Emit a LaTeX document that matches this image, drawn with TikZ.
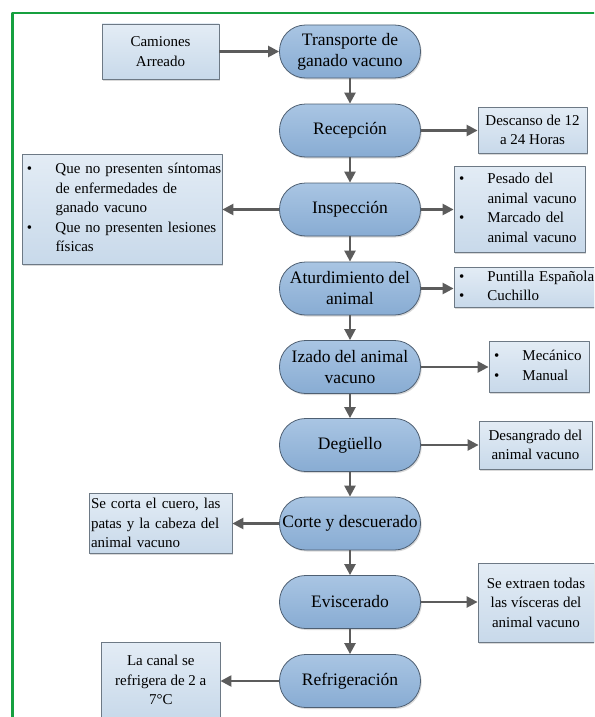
\documentclass[tikz,border=0pt]{standalone}
\usepackage{fontspec}
\setmainfont{Liberation Serif}
\usetikzlibrary{arrows.meta,shadows}
\definecolor{framegreen}{HTML}{16A03F}
\definecolor{arrowgray}{HTML}{5C5C5C}
\definecolor{pilltop}{HTML}{A9C5E3}
\definecolor{pillbot}{HTML}{88ACD3}
\definecolor{pillline}{HTML}{4E5F72}
\definecolor{boxtop}{HTML}{E3ECF5}
\definecolor{boxbot}{HTML}{C8D9EA}
\definecolor{boxline}{HTML}{6D7985}
\tikzset{
  every picture/.style={line join=round, >=Triangle},
  stage/.style={draw=pillline, line width=0.8pt, rounded corners=26pt,
    top color=pilltop, bottom color=pillbot, minimum width=141pt, minimum height=53pt,
    align=center, inner sep=1pt, font=\fontsize{17.5}{21}\selectfont,
    drop shadow={shadow xshift=1.2pt, shadow yshift=-1.5pt, opacity=0.3}},
  note/.style={draw=boxline, line width=0.8pt, top color=boxtop, bottom color=boxbot,
    inner sep=0pt, align=center, font=\fontsize{15}{19.5}\selectfont,
    drop shadow={shadow xshift=1.2pt, shadow yshift=-1.5pt, opacity=0.3}},
  listnote/.style={note, inner xsep=5pt, align=left},
  link/.style={-{Triangle[length=11pt,width=11pt]}, draw=arrowgray, line width=2.4pt},
}
\newcommand{\itemrows}[1]{\begin{tabular}{@{}p{28.5pt}@{}l@{}}#1\end{tabular}}
\begin{document}
\begin{tikzpicture}[x=1pt,y=-1pt]
\useasboundingbox (0,0) rectangle (594,717);
\clip (0,0) rectangle (594,717);
\draw[framegreen,line width=2.2pt] (12.5,740) |- (620,12.7);
% etapas del proceso
\node[stage] (transporte) at (350,51.5) {Transporte de\\ganado vacuno};
\node[stage] (recepcion) at (350,130.5) {Recepción};
\node[stage] (inspeccion) at (350,209.5) {Inspección};
\node[stage] (aturdimiento) at (350,288.5) {Aturdimiento del\\animal};
\node[stage] (izado) at (350,367) {Izado del animal\\vacuno};
\node[stage] (deguello) at (350,445) {Degüello};
\node[stage] (corte) at (350,523.5) {Corte y descuerado};
\node[stage] (eviscerado) at (350,602) {Eviscerado};
\node[stage] (refrigeracion) at (350,681) {Refrigeración};
% notas laterales
\node[note,minimum width=117pt,minimum height=55pt] (camiones) at (160.5,51.5) {Camiones\\Arreado};
\node[note,minimum width=109pt,minimum height=46pt] (descanso) at (532.5,130) {Descanso de 12\\a 24 Horas};
\node[listnote,text width=190pt,minimum height=110pt] (sintomas) at (122,209) {\itemrows{\textbullet & Que no presenten síntomas\\ & de enfermedades de\\ & ganado vacuno\\ \textbullet & Que no presenten lesiones\\ & físicas}};
\node[listnote,text width=121pt,minimum height=86pt] (pesado) at (519.5,209) {\itemrows{\textbullet & Pesado del\\ & animal vacuno\\ \textbullet & Marcado del\\ & animal vacuno}};
\node[listnote,text width=131pt,minimum height=40pt] (herramientas) at (524.5,287) {\itemrows{\textbullet & Puntilla Española\\ \textbullet & Cuchillo}};
\node[listnote,text width=90pt,minimum height=51pt] (modo) at (539,366.5) {\itemrows{\textbullet & Mecánico\\ \textbullet & Manual}};
\node[note,minimum width=113pt,minimum height=48pt] (desangrado) at (535.5,445) {Desangrado del\\animal vacuno};
\node[note,text width=139pt,inner xsep=2pt,minimum height=60pt,align=left] (cuero) at (160.5,523) {Se corta el cuero, las\\patas y la cabeza del\\animal vacuno};
\node[note,minimum width=116pt,minimum height=79pt] (visceras) at (536,602.5) {Se extraen todas\\las vísceras del\\animal vacuno};
\node[note,minimum width=118.5pt,minimum height=76pt] (canal) at (160.8,680) {La canal se\\refrigera de 2 a\\7°C};
% flechas
\foreach \a/\b in {transporte/recepcion,recepcion/inspeccion,inspeccion/aturdimiento,aturdimiento/izado,izado/deguello,deguello/corte,corte/eviscerado,eviscerado/refrigeracion}
  \draw[link] (\a.south) -- (\b.north);
\draw[link] (camiones.east) -- (camiones.east -| transporte.west);
\draw[link] (recepcion.east) -- (recepcion.east -| descanso.west);
\draw[link] (inspeccion.west) -- (inspeccion.west -| sintomas.east);
\draw[link] (inspeccion.east) -- (inspeccion.east -| pesado.west);
\draw[link] (aturdimiento.east) -- (aturdimiento.east -| herramientas.west);
\draw[link] (izado.east) -- (izado.east -| modo.west);
\draw[link] (deguello.east) -- (deguello.east -| desangrado.west);
\draw[link] (corte.west) -- (corte.west -| cuero.east);
\draw[link] (eviscerado.east) -- (eviscerado.east -| visceras.west);
\draw[link] (refrigeracion.west) -- (refrigeracion.west -| canal.east);
\end{tikzpicture}
\end{document}
